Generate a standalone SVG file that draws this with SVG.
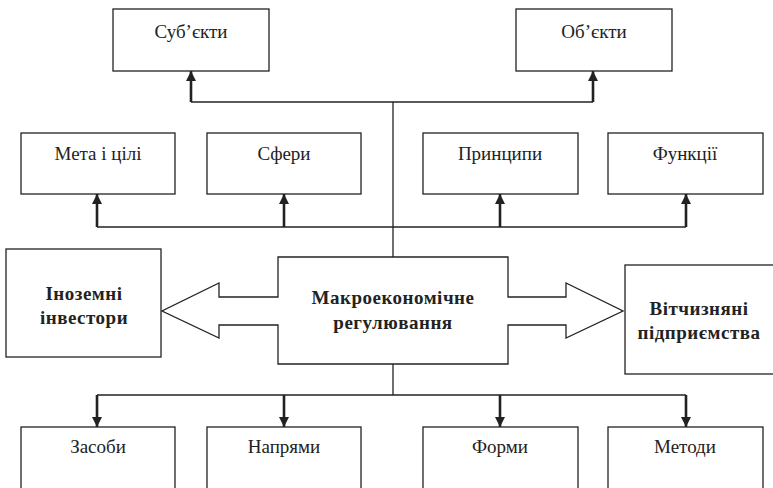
<svg xmlns="http://www.w3.org/2000/svg" width="773" height="488" viewBox="0 0 773 488">
<style>
.box{fill:#fff;stroke:#222;stroke-width:1.3}
.t{font-family:"Liberation Serif","Times New Roman",serif;font-size:19px;fill:#222;text-anchor:middle}
.b{font-family:"Liberation Serif","Times New Roman",serif;font-size:19px;font-weight:bold;fill:#222;text-anchor:middle;letter-spacing:0.5px}
.ln{fill:none;stroke:#222;stroke-width:1.3}
.sh{fill:none;stroke:#222;stroke-width:2.6}
.big{fill:#fff;stroke:#222;stroke-width:1.3;stroke-linejoin:miter}
</style>
<defs>
<marker id="ah" markerWidth="10" markerHeight="10" viewBox="0 0 10 10" refX="10" refY="5" orient="auto" markerUnits="userSpaceOnUse">
<path d="M0,0 L10,5 L0,10 Z" fill="#222"/>
</marker>
</defs>
<g id="connectors">
<line class="ln" x1="393" y1="102" x2="393" y2="257"/>
<line class="ln" x1="191" y1="102" x2="593" y2="102"/>
<line class="ln" x1="97" y1="227" x2="686" y2="227"/>
<line class="sh" x1="191" y1="102" x2="191" y2="71" marker-end="url(#ah)"/>
<line class="sh" x1="593" y1="102" x2="593" y2="71" marker-end="url(#ah)"/>
<line class="sh" x1="97" y1="227" x2="97" y2="194" marker-end="url(#ah)"/>
<line class="sh" x1="284" y1="227" x2="284" y2="194" marker-end="url(#ah)"/>
<line class="sh" x1="500" y1="227" x2="500" y2="194" marker-end="url(#ah)"/>
<line class="sh" x1="686" y1="227" x2="686" y2="194" marker-end="url(#ah)"/>
<line class="ln" x1="393" y1="364" x2="393" y2="395"/>
<line class="ln" x1="97" y1="395" x2="686" y2="395"/>
<line class="sh" x1="97" y1="395" x2="97" y2="427" marker-end="url(#ah)"/>
<line class="sh" x1="284" y1="395" x2="284" y2="427" marker-end="url(#ah)"/>
<line class="sh" x1="500" y1="395" x2="500" y2="427" marker-end="url(#ah)"/>
<line class="sh" x1="686" y1="395" x2="686" y2="427" marker-end="url(#ah)"/>
</g>
<g id="n-subjekty"><rect class="box" x="113" y="9" width="156" height="62"/><text class="t" x="191" y="38">Суб’єкти</text></g>
<g id="n-objekty"><rect class="box" x="516" y="9" width="156" height="62"/><text class="t" x="594" y="38">Об’єкти</text></g>
<g id="n-meta"><rect class="box" x="21" y="133" width="154" height="61"/><text class="t" x="98" y="160">Мета і цілі</text></g>
<g id="n-sfery"><rect class="box" x="207" y="133" width="154" height="61"/><text class="t" x="284" y="160">Сфери</text></g>
<g id="n-pryntsypy"><rect class="box" x="423" y="133" width="155" height="61"/><text class="t" x="500" y="160">Принципи</text></g>
<g id="n-funktsii"><rect class="box" x="608" y="133" width="155" height="61"/><text class="t" x="685" y="160">Функції</text></g>
<g id="n-center">
<path class="big" d="M278,257 H508 V297 H566 V283 L623,311 L566,338 V325 H508 V364 H278 V325 H219 V338 L162,311 L219,283 V297 H278 Z"/>
<text class="b" x="393" y="304">Макроекономічне</text>
<text class="b" x="393" y="329">регулювання</text>
</g>
<g id="n-inozemni"><rect class="box" x="6" y="249" width="155" height="108"/><text class="b" x="84" y="300">Іноземні</text><text class="b" x="84" y="324">інвестори</text></g>
<g id="n-vitchyzniani"><rect class="box" x="625" y="265" width="150" height="109"/><text class="b" x="699" y="315">Вітчизняні</text><text class="b" x="699" y="339">підприємства</text></g>
<g id="n-zasoby"><rect class="box" x="21" y="427" width="154" height="80"/><text class="t" x="98" y="453">Засоби</text></g>
<g id="n-napriamy"><rect class="box" x="207" y="427" width="154" height="80"/><text class="t" x="284" y="453">Напрями</text></g>
<g id="n-formy"><rect class="box" x="423" y="427" width="155" height="80"/><text class="t" x="500" y="453">Форми</text></g>
<g id="n-metody"><rect class="box" x="608" y="427" width="155" height="80"/><text class="t" x="685" y="453">Методи</text></g>
</svg>
